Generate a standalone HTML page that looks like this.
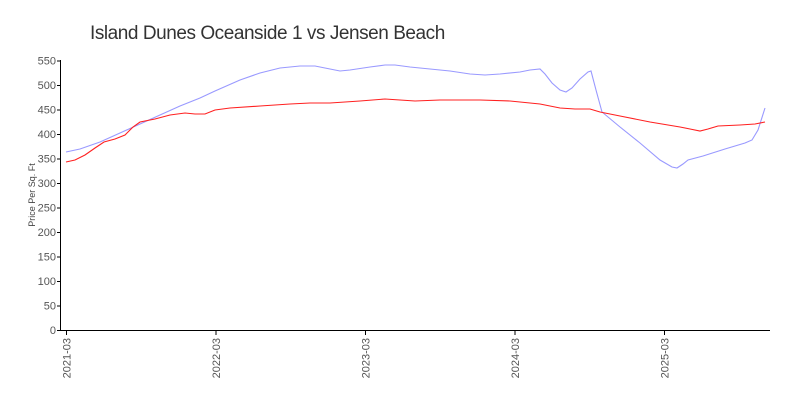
<!DOCTYPE html>
<html><head><meta charset="utf-8"><style>
html,body{margin:0;padding:0;background:#fff;}
svg{display:block;font-family:"Liberation Sans",sans-serif;}
</style></head><body>
<svg width="800" height="400" viewBox="0 0 800 400">
<text x="90" y="39" font-size="19" fill="#333" letter-spacing="-0.45">Island Dunes Oceanside 1 vs Jensen Beach</text>
<text transform="translate(35,195) rotate(-90)" font-size="9" fill="#444" text-anchor="middle">Price Per Sq. Ft</text>
<g font-size="11" fill="#555" text-anchor="end">
<text x="56" y="334">0</text><text x="56" y="309.5">50</text><text x="56" y="285">100</text><text x="56" y="260.5">150</text><text x="56" y="236">200</text><text x="56" y="211.5">250</text><text x="56" y="187">300</text><text x="56" y="162.5">350</text><text x="56" y="138">400</text><text x="56" y="113.5">450</text><text x="56" y="89">500</text><text x="56" y="64.5">550</text>
</g>
<g stroke="#000" stroke-width="1">
<line x1="60.5" y1="60" x2="60.5" y2="330.5"/>
<line x1="60" y1="330.5" x2="770" y2="330.5"/>
<line x1="57" y1="330.5" x2="60" y2="330.5"/><line x1="57" y1="306" x2="60" y2="306"/><line x1="57" y1="281.5" x2="60" y2="281.5"/><line x1="57" y1="257" x2="60" y2="257"/><line x1="57" y1="232.5" x2="60" y2="232.5"/><line x1="57" y1="208" x2="60" y2="208"/><line x1="57" y1="183.5" x2="60" y2="183.5"/><line x1="57" y1="159" x2="60" y2="159"/><line x1="57" y1="134.5" x2="60" y2="134.5"/><line x1="57" y1="110" x2="60" y2="110"/><line x1="57" y1="85.5" x2="60" y2="85.5"/><line x1="57" y1="61" x2="60" y2="61"/>
<line x1="66.5" y1="330" x2="66.5" y2="335"/><line x1="216" y1="330" x2="216" y2="335"/><line x1="365.5" y1="330" x2="365.5" y2="335"/><line x1="515" y1="330" x2="515" y2="335"/><line x1="664.5" y1="330" x2="664.5" y2="335"/>
</g>
<g stroke="#ccc" stroke-width="1" id="minor"></g>
<g font-size="11" fill="#555" text-anchor="end">
<text transform="translate(70.5,338) rotate(-90)">2021-03</text>
<text transform="translate(220,338) rotate(-90)">2022-03</text>
<text transform="translate(369.5,338) rotate(-90)">2023-03</text>
<text transform="translate(519,338) rotate(-90)">2024-03</text>
<text transform="translate(668.5,338) rotate(-90)">2025-03</text>
</g>
<polyline fill="none" stroke="#9999ff" stroke-width="1.1" points="66,152 80,149 100,142 120,133 140,124 160,115 180,106 200,98 215,91 240,80 260,73 280,68 300,66 315,66 330,69 340,71 350,70 370,67 385,65 395,65 410,67 430,69 450,71 470,74 485,75 500,74 520,72 530,70 540,69 545,74 552,83 560,90 566,92 572,88 580,79 588,72 591,71 596,90 602,112 620,127 640,143 660,160 672,167 677,168 683,164 688,160 703,156 725,149 745,143 752,140 758,130 765,108"/>
<polyline fill="none" stroke="#ff2020" stroke-width="1.1" points="66,162 75,160 85,155 95,148 104,142 115,139 125,135 133,127 140,122 155,119 170,115 185,113 195,114 205,114 215,110 230,108 260,106 290,104 310,103 330,103 345,102 360,101 385,99 400,100 415,101 440,100 480,100 510,101 540,104 560,108 575,109 590,109 600,112 620,116 650,122 680,127 690,129 700,131 708,129 718,126 740,125 755,124 765,122"/>
<script>
var g=document.getElementById('minor'),s='';
for(var i=1;i<57;i++){if(i%12==0)continue;var x=66.5+i*149.5/12;s+='<line x1="'+x+'" y1="331" x2="'+x+'" y2="334"/>';}
g.innerHTML=s;
</script>
</svg>
</body></html>
